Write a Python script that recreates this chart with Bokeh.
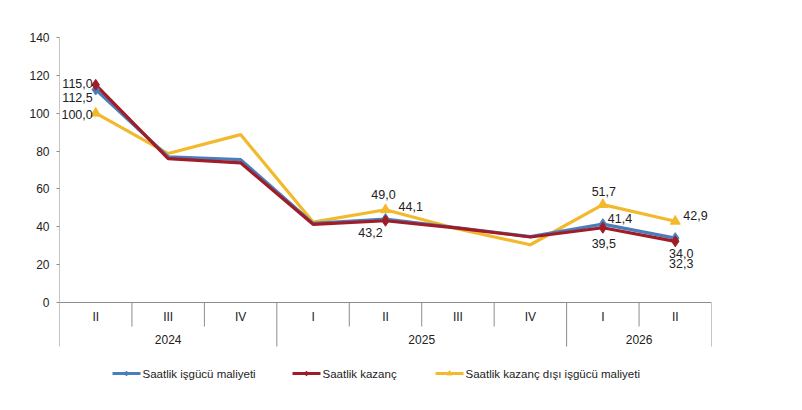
from bokeh.plotting import figure
from bokeh.models import FixedTicker
from bokeh.core.properties import value
from bokeh.embed import file_html
from bokeh.resources import INLINE

# Chart data
quarters = ["II", "III", "IV", "I", "II", "III", "IV", "I", "II"]
years = ["2024", "2025", "2026"]
year_counts = [3, 4, 2]
labor_cost = [112.5, 77.0, 75.5, 41.8, 44.1, 39.5, 34.8, 41.4, 34.0]
earnings = [115.0, 76.0, 73.8, 41.3, 43.2, 39.3, 34.6, 39.5, 32.3]
non_wage = [100.0, 78.7, 88.7, 42.5, 49.0, 38.8, 30.5, 51.7, 42.9]
labelled = [0, 4, 7, 8]
y_ticks = [0, 20, 40, 60, 80, 100, 120, 140]
series_names = ["Saatlik işgücü maliyeti", "Saatlik kazanç", "Saatlik kazanç dışı işgücü maliyeti"]

BLUE = "#4a7ebb"
RED = "#a01c26"
YELLOW = "#f3b92c"
GRID = "#8c8c8c"
TXT = "#222222"
FONT = "Liberation Sans"

W, H = 794, 402
LEFT, RIGHT, TOP = 59, W - 711, 37
FRAME_H = H - TOP
PX_PER_UNIT = 265 / 140.0
Y_MIN = 140 - FRAME_H / PX_PER_UNIT
N = len(quarters)
XPX = (W - LEFT - RIGHT) / N


def y_at(img_y):
    # picture pixel row -> data value
    return 140 - (img_y - TOP) / PX_PER_UNIT


def x_at(img_x):
    return (img_x - LEFT) / XPX


p = figure(width=W, height=H, x_range=(0, N), y_range=(Y_MIN, 140),
           output_backend="svg", toolbar_location=None, tools="",
           min_border_left=LEFT, min_border_right=RIGHT,
           min_border_top=TOP, min_border_bottom=0)
p.outline_line_color = None
p.background_fill_color = "white"
p.border_fill_color = "white"
p.xgrid.visible = False
p.ygrid.visible = False
p.xaxis.visible = False

p.yaxis.ticker = FixedTicker(ticks=y_ticks)
p.yaxis.axis_line_color = None
p.yaxis.major_tick_line_color = GRID
p.yaxis.major_tick_out = 3
p.yaxis.major_tick_in = 0
p.yaxis.minor_tick_line_color = None
p.yaxis.major_label_standoff = 7
p.yaxis.major_label_text_font = FONT
p.yaxis.major_label_text_font_size = "12px"
p.yaxis.major_label_text_color = TXT

# table under the x axis
bottom_q = y_at(326)
bottom_y = y_at(346)
p.segment(x0=[0], y0=[bottom_y], x1=[0], y1=[140], line_color=GRID, line_width=1)
p.segment(x0=[0], y0=[0], x1=[N], y1=[0], line_color=GRID, line_width=1)
year_edges = []
acc = 0
for c in year_counts:
    acc += c
    year_edges.append(acc)
inner = [i for i in range(1, N) if i not in year_edges]
p.segment(x0=inner, y0=[0] * len(inner), x1=inner, y1=[bottom_q] * len(inner),
          line_color=GRID, line_width=1)
p.segment(x0=year_edges, y0=[0] * len(year_edges), x1=year_edges, y1=[bottom_y] * len(year_edges),
          line_color=GRID, line_width=1)

xs = [i + 0.5 for i in range(N)]
p.text(x=xs, y=[y_at(316)] * N, text=quarters, text_align="center", text_baseline="middle",
       text_font=value(FONT), text_font_size="12px", text_color=TXT)
starts = [0] + year_edges[:-1]
year_x = [(s + e) / 2 for s, e in zip(starts, year_edges)]
p.text(x=year_x, y=[y_at(339)] * len(years), text=years, text_align="center", text_baseline="middle",
       text_font=value(FONT), text_font_size="12px", text_color=TXT)

# series
p.line(xs, non_wage, line_color=YELLOW, line_width=3.2)
p.line(xs, labor_cost, line_color=BLUE, line_width=3.2)
p.line(xs, earnings, line_color=RED, line_width=3.2)

lx = [xs[i] for i in labelled]
p.scatter(lx, [non_wage[i] for i in labelled], marker="triangle", size=10,
          fill_color=YELLOW, line_color=YELLOW)
p.scatter(lx, [labor_cost[i] for i in labelled], marker="diamond", size=11,
          fill_color=BLUE, line_color=BLUE)
p.scatter(lx, [earnings[i] for i in labelled], marker="diamond", size=11,
          fill_color=RED, line_color=RED)


def fmt(v):
    return f"{v:.1f}".replace(".", ",")


# data labels: (series, index, x_offset, y_offset, align)
label_spec = [
    (earnings, 0, -3, -1, "right"),
    (labor_cost, 0, -3, 8, "right"),
    (non_wage, 0, -3, 1, "right"),
    (non_wage, 4, -2, -15, "center"),
    (labor_cost, 4, 13, -13, "left"),
    (earnings, 4, -15, 12, "center"),
    (non_wage, 7, 1, -13, "center"),
    (labor_cost, 7, 5, -6, "left"),
    (earnings, 7, 1, 16, "center"),
    (non_wage, 8, 8, -6, "left"),
    (labor_cost, 8, 6, 15, "center"),
    (earnings, 8, 6, 22, "center"),
]
for ser, i, dx, dy, al in label_spec:
    p.text(x=[xs[i]], y=[ser[i]], text=[fmt(ser[i])], x_offset=dx, y_offset=dy,
           text_align=al, text_baseline="middle", text_font=value(FONT),
           text_font_size="12.5px", text_color=TXT)

# legend
ly = y_at(373)
leg_x0 = [112, 292, 435]
leg_colors = [BLUE, RED, YELLOW]
leg_markers = ["diamond", "diamond", "triangle"]
for x0, col, mk, name in zip(leg_x0, leg_colors, leg_markers, series_names):
    p.segment(x0=[x_at(x0)], y0=[ly], x1=[x_at(x0 + 28)], y1=[ly], line_color=col, line_width=3)
    p.scatter([x_at(x0 + 14)], [ly], marker=mk, size=5, fill_color=col, line_color=col)
    p.text(x=[x_at(x0 + 30)], y=[ly], text=[name], text_align="left", text_baseline="middle",
           text_font=value(FONT), text_font_size="11.5px", text_color=TXT)

open("out.html", "w").write(file_html(p, INLINE))
